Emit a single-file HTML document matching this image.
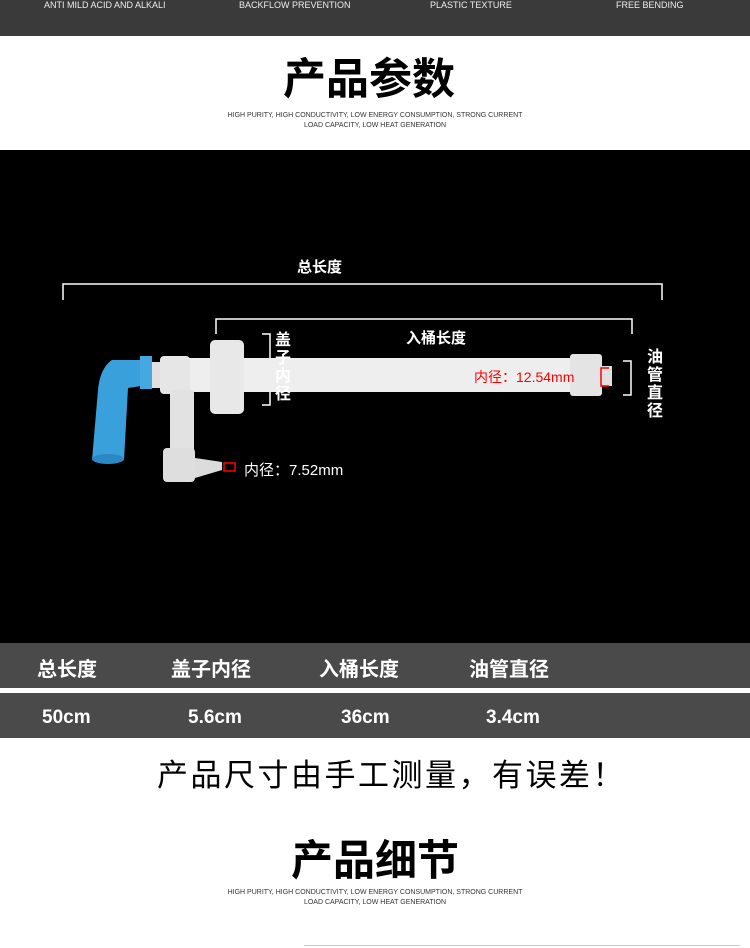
<!DOCTYPE html>
<html><head><meta charset="utf-8"><style>
*{margin:0;padding:0;box-sizing:border-box}
body{width:750px;height:948px;position:relative;background:#fff;overflow:hidden;font-family:"Liberation Sans","Noto Sans CJK SC",sans-serif}
.a{position:absolute;white-space:nowrap}
.top{position:absolute;left:0;top:0;width:750px;height:36px;background:#3a3a3a}
.top span{position:absolute;top:0;font-size:9px;color:#eee;font-family:"Liberation Sans Narrow","Liberation Sans",sans-serif}
.sub{font-size:7px;color:#333;text-align:center;width:750px;left:0;line-height:10px;font-family:"Liberation Sans Narrow","Liberation Sans",sans-serif}
.h{font-weight:bold;color:#000;text-align:center;width:750px;left:0}
.w{color:#fff;font-weight:bold}
.bar{position:absolute;left:0;width:750px;background:#4a4a4a}
</style></head><body>
<div class="top"><span style="left:44px">ANTI MILD ACID AND ALKALI</span><span style="left:239px">BACKFLOW PREVENTION</span><span style="left:430px">PLASTIC TEXTURE</span><span style="left:616px">FREE BENDING</span></div>
<div class="a h" style="top:54px;font-size:43px;line-height:52px;padding-right:12px">产品参数</div>
<div class="a sub" style="top:111px">HIGH PURITY, HIGH CONDUCTIVITY, LOW ENERGY CONSUMPTION, STRONG CURRENT<br>LOAD CAPACITY, LOW HEAT GENERATION</div>
<div style="position:absolute;left:0;top:150px;width:750px;height:493px;background:#000"></div>
<svg class="a" style="left:0;top:150px" width="750" height="493" viewBox="0 150 750 493">
<g fill="none" stroke="#fff" stroke-width="1.5">
<path d="M63 300V284H662V300"/><path d="M216 334V319H632V334"/>
<path d="M262 334H270V405H262"/><path d="M623 361H631V395H623"/>
</g>
<rect x="180" y="358" width="420" height="34" fill="#eeeeee"/>
<rect x="570" y="354" width="32" height="42" rx="3" fill="#e4e4e4"/>
<rect x="600" y="366" width="12" height="20" fill="#e0e0e0"/>
<rect x="148" y="362" width="40" height="26" fill="#e0e0e0"/>
<rect x="160" y="356" width="30" height="38" rx="4" fill="#e6e6e6"/>
<rect x="210" y="340" width="34" height="74" rx="5" fill="#e8e8e8"/>
<rect x="170" y="390" width="24" height="70" rx="3" fill="#e2e2e2"/>
<rect x="163" y="448" width="32" height="34" rx="4" fill="#dedede"/>
<path d="M195 458L222 462V470L195 478Z" fill="#dcdcdc"/>
<path d="M112 360H148V385L128 388L124 460H92L98 390Q100 368 112 360Z" fill="#3aa0dc"/>
<rect x="140" y="356" width="12" height="33" fill="#46a8e0"/>
<ellipse cx="108" cy="459" rx="16" ry="5" fill="#2a88c4"/>
<g fill="none" stroke="#f00" stroke-width="1.5"><path d="M609 368H601V386H609"/><rect x="224" y="463" width="11" height="8"/></g>
</svg>
<div class="a w" style="left:297px;top:256px;font-size:15px">总长度</div>
<div class="a w" style="left:406px;top:327px;font-size:15px">入桶长度</div>
<div class="a w" style="left:275px;top:332px;font-size:16px;width:17px;line-height:18px;white-space:normal">盖子内径</div>
<div class="a w" style="left:647px;top:349px;font-size:16px;width:17px;line-height:18px;white-space:normal">油管直径</div>
<div class="a" style="left:474px;top:367px;font-size:14px;color:#f00">内径：12.54mm</div>
<div class="a" style="left:244px;top:459px;font-size:15px;color:#fff">内径：7.52mm</div>
<div class="bar" style="top:643px;height:45px"></div>
<div class="bar" style="top:693px;height:45px"></div>
<div class="a w" style="left:37px;top:653px;font-size:20px">总长度</div>
<div class="a w" style="left:171px;top:653px;font-size:20px">盖子内径</div>
<div class="a w" style="left:319px;top:653px;font-size:20px">入桶长度</div>
<div class="a w" style="left:469px;top:653px;font-size:20px">油管直径</div>
<div class="a w" style="left:42px;top:707px;font-size:19px">50cm</div>
<div class="a w" style="left:188px;top:707px;font-size:19px">5.6cm</div>
<div class="a w" style="left:341px;top:707px;font-size:19px">36cm</div>
<div class="a w" style="left:486px;top:707px;font-size:19px">3.4cm</div>
<div class="a" style="left:157px;top:750px;font-size:31px;color:#000;letter-spacing:2.5px">产品尺寸由手工测量，有误差！</div>
<div class="a h" style="top:835px;font-size:42px;line-height:52px">产品细节</div>
<div class="a sub" style="top:888px">HIGH PURITY, HIGH CONDUCTIVITY, LOW ENERGY CONSUMPTION, STRONG CURRENT<br>LOAD CAPACITY, LOW HEAT GENERATION</div>
<div style="position:absolute;left:304px;top:945px;width:436px;height:1px;background:#ccc"></div>
</body></html>
